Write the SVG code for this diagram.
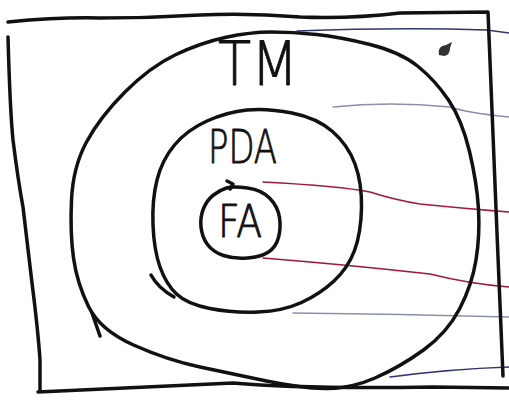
<svg xmlns="http://www.w3.org/2000/svg" width="509" height="405" viewBox="0 0 509 405">
<style>
.ink{fill:none;stroke:#111;stroke-width:3.5;stroke-linecap:round;stroke-linejoin:round}
.rule{fill:none;stroke-width:1.4;stroke-linecap:round}
.navy{stroke:#2d3470}
.pale{stroke:#8a90aa}
.red{stroke:#a0183c}
.lbl{font-family:"DejaVu Sans","Liberation Sans",sans-serif;font-weight:200;fill:#111;stroke:#111;stroke-width:0.9;stroke-linejoin:round}
</style>
<rect width="509" height="405" fill="#fff"/>
<g id="ruled-lines">
<path class="rule navy" d="M297,31 Q400,27 487,30 L509,33"/>
<path class="rule pale" d="M333,107 Q390,101 450,107 Q468,113 509,117"/>
<path class="rule red" stroke-width="1.8" d="M263,182 Q340,186 370,192 Q395,200 420,204 Q470,209 509,212"/>
<path class="rule red" d="M263,258 Q350,265 430,274 Q470,284 509,287"/>
<path class="rule pale" d="M293,313 Q400,314 509,317"/>
<path class="rule navy" d="M390,377 Q450,369 509,367"/>
</g>
<g id="frame">
<path class="ink" d="M8,22 Q60,17 100,18 Q150,18 200,15 Q250,13 300,17 Q350,19 400,13 L488,12 Q492,120 497,233 Q500,300 503,376"/>
<path class="ink" d="M8,37 Q10,110 13,140 Q18,180 23,207 Q28,250 32,283 Q38,330 40,360 L40,390"/>
<path class="ink" d="M38,392 Q140,387 233,383 Q300,389 433,387 L509,388"/>
</g>
<g id="TM">
<path class="ink" d="M316.5,34.5 Q340,37 370,44.5 Q400,52 417.5,66 Q435,80 448.5,100 Q462,120 469.5,151.5 Q477,183 478.5,209 Q480,235 476,260 Q472,285 459.5,309 Q447,333 423.5,350 Q400,367 375,378 Q350,389 325,388.5 Q300,388 266.5,381 Q233,374 200,367 Q167,360 133.5,345 Q100,330 88.5,306.5 Q77,283 73.5,258 Q70,233 71.5,200 Q73,167 86.5,142 Q100,117 125,92 Q150,67 175,55 Q200,43 225,37.5 Q250,32 271.5,32 Q293,32 316.5,34.5"/>
<path class="ink" d="M92,313 L100,336"/>
<text class="lbl" x="218" y="85" font-size="60" textLength="80" lengthAdjust="spacingAndGlyphs">TM</text>
</g>
<g id="PDA">
<path class="ink" d="M292,113 Q317,118 332.5,131.5 Q348,145 355,164 Q362,183 361.5,208 Q361,233 354.5,250.5 Q348,268 334,281 Q320,294 301.5,302.5 Q283,311 258,312 Q233,313 210,308.5 Q187,304 176.5,294 Q166,284 160,267 Q154,250 153,225 Q152,200 157,180 Q162,160 174.5,145 Q187,130 207,121 Q227,112 247,110 Q267,108 292,113"/>
<path class="ink" d="M151,275 Q158,288 174,297"/>
<text class="lbl" x="208" y="163" font-size="46" textLength="69" lengthAdjust="spacingAndGlyphs">PDA</text>
</g>
<g id="FA">
<path class="ink" d="M247.5,188 Q262,190 270,198.5 Q278,207 279.5,217.5 Q281,228 278.5,237.5 Q276,247 268.5,252 Q261,257 247.5,258 Q234,259 223.5,255.5 Q213,252 207.5,244.5 Q202,237 201,227 Q200,217 203.5,208.5 Q207,200 213.5,195 Q220,190 226.5,188 Q233,186 247.5,188"/>
<path class="ink" d="M227,181 L233,184 L230,189"/>
<text class="lbl" x="218" y="237" font-size="44" textLength="44" lengthAdjust="spacingAndGlyphs">FA</text>
</g>
<path d="M439,55 Q437,46 446,45 L452,42 L450,48 Q450,55 444,56 Z" fill="#333"/>
</svg>
